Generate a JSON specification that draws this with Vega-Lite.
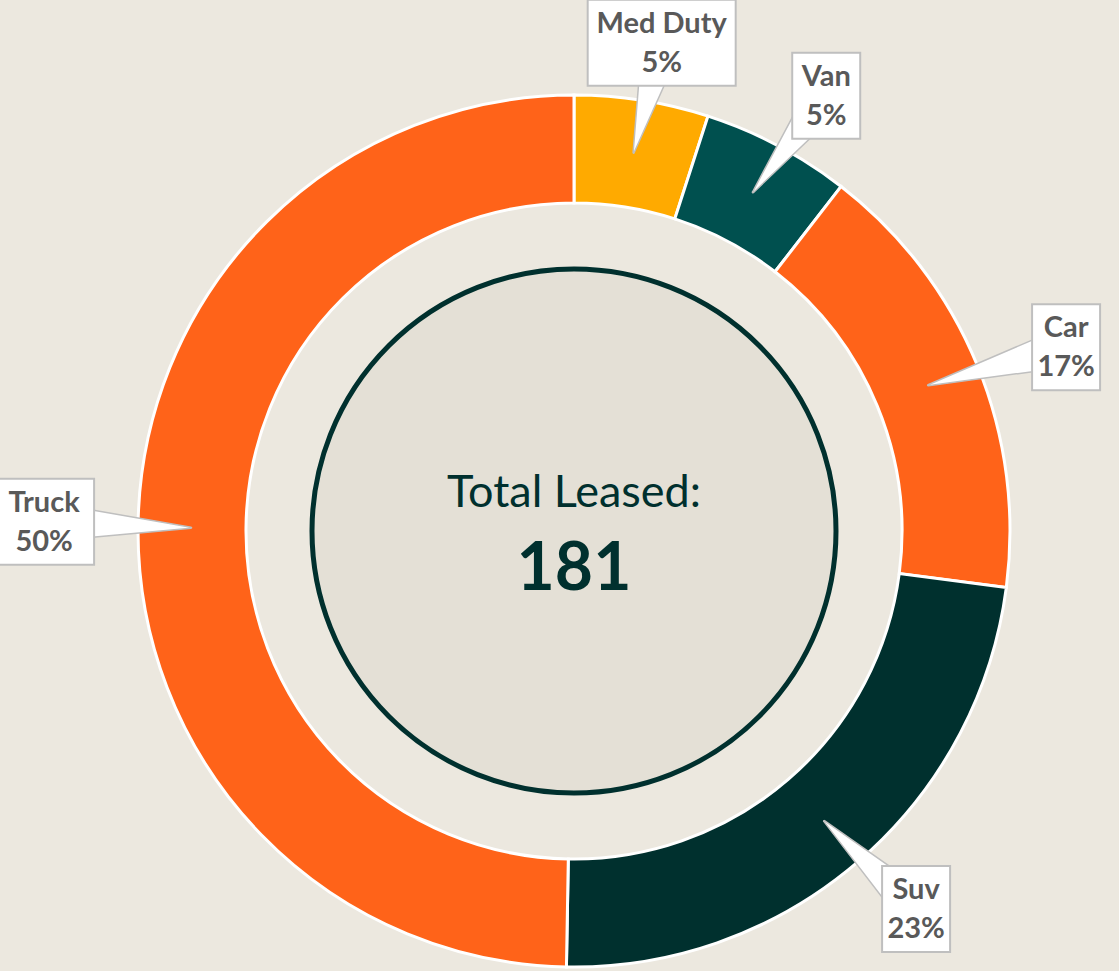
{
  "$schema": "https://vega.github.io/schema/vega-lite/v6.json",
  "width": 1090,
  "height": 880,
  "autosize": {"type": "none"},
  "padding": {"left": 29, "top": 91, "right": 0, "bottom": 0},
  "background": "#ECE8DF",
  "config": {"view": {"stroke": null}},
  "resolve": {"scale": {"theta": "independent"}},
  "layer": [
    {
      "data": {"values": [{"c": 1}]},
      "mark": {"type": "arc", "outerRadius": 262, "innerRadius": 0, "fill": "#E4E0D6", "stroke": "#00302E", "strokeWidth": 5},
      "encoding": {"theta": {"field": "c", "type": "quantitative"}}
    },
    {
      "data": {"values": [{"t": "Total Leased:"}]},
      "mark": {"type": "text", "font": "Lato", "fontSize": 45, "color": "#00302E", "align": "center", "baseline": "alphabetic", "dy": -24},
      "encoding": {"text": {"field": "t", "type": "nominal"}}
    },
    {
      "data": {"values": [
        {"type": "Med Duty", "count": 9, "pct": "5%"},
        {"type": "Van", "count": 10, "pct": "5%"},
        {"type": "Car", "count": 30, "pct": "17%"},
        {"type": "Suv", "count": 42, "pct": "23%"},
        {"type": "Truck", "count": 90, "pct": "50%"}
      ]},
      "transform": [
        {"joinaggregate": [{"op": "sum", "field": "count", "as": "total"}]},
        {"window": [{"op": "sum", "field": "count", "as": "cum"}], "frame": [null, 0]},
        {"calculate": "2*PI*(datum.cum - datum.count/2)/datum.total", "as": "mid"},
        {"calculate": "datum.mid + 0.01", "as": "la"},
        {"calculate": "530*sin(datum.la)", "as": "lx"},
        {"calculate": "495*cos(datum.la)", "as": "ly"},
        {"calculate": "383*sin(datum.mid)", "as": "tx"},
        {"calculate": "383*cos(datum.mid)", "as": "ty"},
        {"calculate": "10 + 8*length(datum.type)", "as": "hw"},
        {"calculate": "datum.lx - datum.hw", "as": "bx1"},
        {"calculate": "datum.lx + datum.hw", "as": "bx2"},
        {"calculate": "datum.ly - 43", "as": "by1"},
        {"calculate": "datum.ly + 43", "as": "by2"},
        {"calculate": "datum.type + '\\n' + datum.pct", "as": "lbl"}
      ],
      "layer": [
        {
          "mark": {"type": "arc", "outerRadius": 436, "innerRadius": 328, "stroke": "white", "strokeWidth": 3},
          "encoding": {
            "theta": {"field": "count", "type": "quantitative", "stack": true},
            "order": {"field": "cum", "type": "quantitative"},
            "color": {
              "field": "type", "type": "nominal", "legend": null,
              "scale": {"domain": ["Med Duty", "Van", "Car", "Suv", "Truck"], "range": ["#FFAA00", "#00504F", "#FF6319", "#00302E", "#FF6319"]}
            }
          }
        },
        {
          "transform": [
            {"calculate": "[datum.tx, datum.lx]", "as": "px"},
            {"calculate": "[datum.ty, datum.ly]", "as": "py"},
            {"calculate": "[0, 1]", "as": "pw"},
            {"flatten": ["px", "py", "pw"]}
          ],
          "mark": {"type": "trail", "fill": "white", "stroke": "#BFBFBF", "strokeWidth": 1.5},
          "encoding": {
            "x": {"field": "px", "type": "quantitative", "axis": null, "scale": {"domain": [-545, 545], "nice": false, "zero": false}},
            "y": {"field": "py", "type": "quantitative", "axis": null, "scale": {"domain": [-440, 440], "nice": false, "zero": false}},
            "size": {"field": "pw", "type": "quantitative", "legend": null, "scale": {"domain": [0, 1], "range": [0, 40]}},
            "detail": {"field": "type", "type": "nominal"},
            "order": {"field": "pw", "type": "quantitative"}
          }
        },
        {
          "mark": {"type": "rect", "fill": "white", "stroke": "#BFBFBF", "strokeWidth": 2},
          "encoding": {
            "x": {"field": "bx1", "type": "quantitative", "axis": null, "scale": {"domain": [-545, 545], "nice": false, "zero": false}},
            "x2": {"field": "bx2"},
            "y": {"field": "by1", "type": "quantitative", "axis": null, "scale": {"domain": [-440, 440], "nice": false, "zero": false}},
            "y2": {"field": "by2"}
          }
        },
        {
          "mark": {"type": "text", "font": "Lato", "fontSize": 29, "fontWeight": "bold", "color": "#595959", "align": "center", "baseline": "middle", "lineBreak": "\n", "lineHeight": 39, "dy": -19},
          "encoding": {
            "x": {"field": "lx", "type": "quantitative", "axis": null, "scale": {"domain": [-545, 545], "nice": false, "zero": false}},
            "y": {"field": "ly", "type": "quantitative", "axis": null, "scale": {"domain": [-440, 440], "nice": false, "zero": false}},
            "text": {"field": "lbl", "type": "nominal"}
          }
        },
        {
          "transform": [{"aggregate": [{"op": "sum", "field": "count", "as": "tot"}]}],
          "mark": {"type": "text", "font": "Lato", "fontSize": 66, "fontWeight": "bold", "color": "#00302E", "align": "center", "baseline": "alphabetic", "dy": 59},
          "encoding": {"text": {"field": "tot", "type": "quantitative"}}
        }
      ]
    }
  ]
}
